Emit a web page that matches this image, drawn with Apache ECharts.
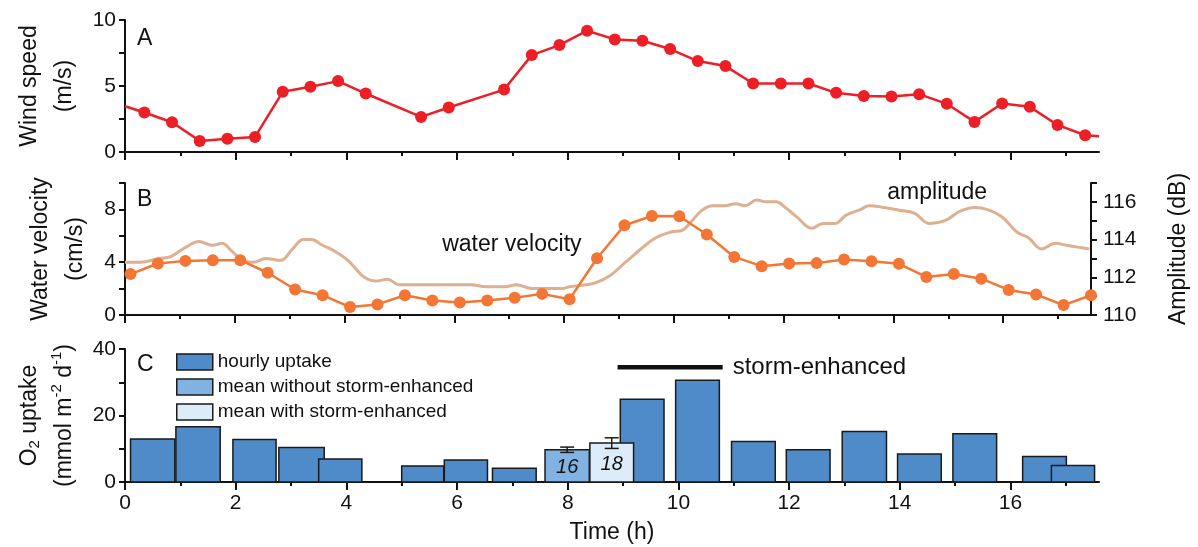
<!DOCTYPE html>
<html><head><meta charset="utf-8">
<script src="https://cdn.jsdelivr.net/npm/echarts@6/dist/echarts.min.js"></script>
<style>html,body{margin:0;padding:0;background:#fff}#c{width:1198px;height:547px}</style>
</head><body><div id="c"></div>
<script>
// ---------- DATA ----------
const hourTicksMajor = [0, 2, 4, 6, 8, 10, 12, 14, 16];
const hourTicksAll = [0, 1, 2, 3, 4, 5, 6, 7, 8, 9, 10, 11, 12, 13, 14, 15, 16, 17];

// Panel A: wind speed (m/s)
const windTime  = [0, 0.35, 0.85, 1.35, 1.85, 2.35, 2.85, 3.35, 3.85, 4.35, 5.35, 5.85, 6.85, 7.35, 7.85, 8.35, 8.85, 9.35, 9.85, 10.35, 10.85, 11.35, 11.85, 12.35, 12.85, 13.35, 13.85, 14.35, 14.85, 15.35, 15.85, 16.35, 16.85, 17.35, 17.6];
const windSpeed = [3.47, 2.99, 2.25, 0.84, 1.01, 1.14, 4.56, 4.94, 5.37, 4.43, 2.66, 3.37, 4.73, 7.34, 8.10, 9.19, 8.53, 8.43, 7.80, 6.89, 6.51, 5.19, 5.19, 5.19, 4.48, 4.25, 4.20, 4.38, 3.65, 2.28, 3.67, 3.42, 2.05, 1.27, 1.19];

// Panel B: water velocity (cm/s)
const waterTime = [0.1, 0.6, 1.1, 1.6, 2.1, 2.6, 3.1, 3.6, 4.1, 4.6, 5.1, 5.6, 6.1, 6.6, 7.1, 7.6, 8.1, 8.6, 9.1, 9.6, 10.1, 10.6, 11.1, 11.6, 12.1, 12.6, 13.1, 13.6, 14.1, 14.6, 15.1, 15.6, 16.1, 16.6, 17.1, 17.6];
const waterVel  = [3.1, 3.9, 4.1, 4.15, 4.15, 3.2, 1.93, 1.5, 0.6, 0.8, 1.5, 1.1, 0.95, 1.1, 1.3, 1.6, 1.2, 4.3, 6.8, 7.5, 7.48, 6.1, 4.4, 3.7, 3.9, 3.93, 4.2, 4.08, 3.88, 2.88, 3.1, 2.75, 1.9, 1.55, 0.75, 1.5];

// Panel B: acoustic amplitude (dB)
const ampTime = [0.00, 0.28, 0.62, 0.83, 1.11, 1.35, 1.59, 1.77, 1.94, 2.15, 2.35, 2.56, 2.84, 3.05, 3.25, 3.39, 3.60, 3.81, 4.02, 4.19, 4.36, 4.57, 4.78, 4.99, 5.33, 5.75, 6.30, 6.58, 6.93, 7.13, 7.41, 7.76, 7.96, 8.10, 8.38, 8.57, 8.84, 9.12, 9.40, 9.67, 9.95, 10.16, 10.30, 10.51, 10.71, 10.92, 11.13, 11.30, 11.51, 11.68, 11.86, 12.03, 12.24, 12.51, 12.72, 12.93, 13.14, 13.41, 13.55, 13.83, 14.11, 14.38, 14.66, 14.94, 15.21, 15.49, 15.70, 15.98, 16.25, 16.46, 16.70, 16.95, 17.15, 17.36, 17.57];
const ampDb   = [112.8, 112.8, 113.0, 113.1, 113.6, 113.9, 113.7, 113.8, 113.4, 112.9, 112.8, 113.0, 112.9, 113.5, 114.0, 114.0, 113.7, 113.4, 113.0, 112.5, 112.0, 111.8, 111.9, 111.6, 111.6, 111.6, 111.6, 111.5, 111.5, 111.6, 111.4, 111.4, 111.4, 111.5, 111.6, 111.7, 112.1, 112.8, 113.5, 114.1, 114.4, 114.5, 114.9, 115.55, 115.8, 115.8, 115.9, 115.8, 116.1, 116.0, 116.0, 115.7, 115.2, 114.6, 114.85, 114.85, 115.3, 115.6, 115.8, 115.7, 115.55, 115.4, 114.85, 115.0, 115.5, 115.7, 115.6, 115.2, 114.4, 114.1, 113.5, 113.8, 113.7, 113.6, 113.5];

// Panel C: hourly O2 uptake bars (start h, end h, value)
const hourlyStart = [0.10, 0.92, 1.95, 2.78, 3.50, 5.00, 5.77, 6.64, 8.95, 9.95, 10.96, 11.95, 12.96, 13.96, 14.96, 16.22, 16.74];
const hourlyEnd   = [0.90, 1.72, 2.73, 3.60, 4.28, 5.76, 6.55, 7.43, 9.74, 10.74, 11.75, 12.74, 13.76, 14.75, 15.75, 17.01, 17.52];
const hourlyValue = [12.9, 16.6, 12.8, 10.4, 6.9, 4.8, 6.6, 4.1, 24.9, 30.6, 12.2, 9.7, 15.2, 8.4, 14.5, 7.7, 5.0];

// Means (start, end, value, error, label)
const meanNames = ['mean without storm-enhanced', 'mean with storm-enhanced'];
const meanStart = [7.59, 8.40];
const meanEnd   = [8.39, 9.19];
const meanValue = [9.7, 11.7];
const meanError = [0.8, 1.6];
const meanLabel = ['16', '18'];

// Storm-enhanced period
const stormTime = [8.9, 10.8];
const stormLevel = 34.5;

// ---------- STYLE ----------
const FONT = '"Liberation Sans", Arial, Helvetica, sans-serif';
const INK = '#111';
const RED = '#ec1f26';
const ORANGE = '#f37634';
const TAN = '#dcb091';
const BLUE = '#4f8bc9';
const BLUE_MID = '#80b3e1';
const BLUE_LIGHT = '#dcecf8';
const XMAX = 17.6;

const chart = echarts.init(document.getElementById('c'), null, {renderer: 'canvas'});

const grids = [
  {left: 125, right: 99, top: 20, height: 132},
  {left: 125, right: 99, top: 183, height: 132},
  {left: 125, right: 99, top: 349, height: 133}
];

function xAxesFor(gi, withLabels) {
  return [
    {
      type: 'value', gridIndex: gi, min: 0, max: XMAX, interval: 1, position: 'bottom',
      axisLine: {show: true, onZero: false, lineStyle: {color: INK, width: 2}},
      axisTick: {show: true, length: 4, customValues: hourTicksAll, lineStyle: {color: INK, width: 2}},
      axisLabel: {show: withLabels, customValues: hourTicksMajor, formatter: v => String(v),
        fontSize: 21, color: INK, fontFamily: FONT, margin: 11},
      splitLine: {show: false},
      name: withLabels ? 'Time (h)' : '', nameLocation: 'middle', nameGap: 39,
      nameTextStyle: {fontSize: 23, color: INK, fontFamily: FONT}
    },
    {
      type: 'value', gridIndex: gi, min: 0, max: XMAX, interval: 2, position: 'bottom',
      axisLine: {show: false},
      axisTick: {show: true, length: 8, customValues: hourTicksMajor, lineStyle: {color: INK, width: 2}},
      axisLabel: {show: false}, splitLine: {show: false}
    }
  ];
}

const yCommon = {
  type: 'value',
  axisLine: {show: true, onZero: false, lineStyle: {color: INK, width: 2}},
  axisTick: {show: true, length: 6, lineStyle: {color: INK, width: 2}},
  splitLine: {show: false},
  nameLocation: 'middle'
};

function barRenderer(fill) {
  return function (params, api) {
    const t0 = api.value(0), t1 = api.value(1), v = api.value(2);
    const p0 = api.coord([t0, v]);
    const p1 = api.coord([t1, 0]);
    return {
      type: 'rect',
      shape: {x: p0[0], y: p0[1], width: p1[0] - p0[0], height: p1[1] - p0[1]},
      style: {fill: fill, stroke: '#1a1a1a', lineWidth: 1.5}
    };
  };
}

function meanRenderer(fill, idx) {
  return function (params, api) {
    const t0 = api.value(0), t1 = api.value(1), v = api.value(2);
    const p0 = api.coord([t0, v]);
    const p1 = api.coord([t1, 0]);
    const pl = api.coord([(t0 + t1) / 2, v * 0.46]);
    return {
      type: 'group',
      children: [
        {type: 'rect', shape: {x: p0[0], y: p0[1], width: p1[0] - p0[0], height: p1[1] - p0[1]},
          style: {fill: fill, stroke: '#1a1a1a', lineWidth: 1.5}},
        {type: 'text', x: pl[0], y: pl[1],
          style: {text: meanLabel[idx], fill: INK, fontSize: 20, fontStyle: 'italic', fontFamily: FONT,
            align: 'center', verticalAlign: 'middle', textAlign: 'center', textVerticalAlign: 'middle'}}
      ]
    };
  };
}

function errRenderer(params, api) {
  const t = api.value(0), lo = api.value(1), hi = api.value(2);
  const a = api.coord([t, lo]), b = api.coord([t, hi]);
  const w = 7;
  const st = {stroke: '#1a1a1a', lineWidth: 1.5};
  return {
    type: 'group',
    children: [
      {type: 'line', shape: {x1: a[0], y1: a[1], x2: b[0], y2: b[1]}, style: st},
      {type: 'line', shape: {x1: a[0] - w, y1: a[1], x2: a[0] + w, y2: a[1]}, style: st},
      {type: 'line', shape: {x1: b[0] - w, y1: b[1], x2: b[0] + w, y2: b[1]}, style: st}
    ]
  };
}

const windData = windTime.map((t, i) => {
  const edge = (i === 0 || i === windTime.length - 1);
  return edge ? {value: [t, windSpeed[i]], symbol: 'none'} : [t, windSpeed[i]];
});

const option = {
  animation: false,
  backgroundColor: '#fff',
  textStyle: {fontFamily: FONT},
  grid: grids,
  xAxis: [].concat(xAxesFor(0, false), xAxesFor(1, false), xAxesFor(2, true)),
  yAxis: [
    Object.assign({}, yCommon, {
      gridIndex: 0, min: 0, max: 10, interval: 2.5,
      axisLabel: {formatter: v => (v % 5 === 0 ? String(v) : ''), fontSize: 21, color: INK, fontFamily: FONT, margin: 9},
      name: 'Wind speed\n(m/s)', nameGap: 27,
      nameTextStyle: {fontSize: 23, lineHeight: 35, color: INK, fontFamily: FONT}
    }),
    Object.assign({}, yCommon, {
      gridIndex: 1, min: 0, max: 10, interval: 2,
      axisLabel: {formatter: v => (v % 4 === 0 ? String(v) : ''), fontSize: 21, color: INK, fontFamily: FONT, margin: 9},
      name: 'Water velocity\n(cm/s)', nameGap: 27,
      nameTextStyle: {fontSize: 23, lineHeight: 35, color: INK, fontFamily: FONT}
    }),
    Object.assign({}, yCommon, {
      gridIndex: 1, min: 110, max: 117, interval: 1, position: 'right',
      axisLabel: {formatter: v => (v % 2 === 0 ? String(v) : ''), fontSize: 21, color: INK, fontFamily: FONT, margin: 12},
      name: 'Amplitude (dB)', nameGap: 76, nameRotate: 90,
      nameTextStyle: {fontSize: 23, color: INK, fontFamily: FONT}
    }),
    Object.assign({}, yCommon, {
      gridIndex: 2, min: 0, max: 40, interval: 10,
      axisLabel: {formatter: v => (v % 20 === 0 ? String(v) : ''), fontSize: 21, color: INK, fontFamily: FONT, margin: 9},
      name: '{t|O}{sub|2}{t| uptake}\n{t|(mmol m}{sup|-2}{t| d}{sup|-1}{t|)}', nameGap: 42,
      nameTextStyle: {
        fontSize: 23, lineHeight: 35, color: INK, fontFamily: FONT,
        rich: {
          t: {fontSize: 23, lineHeight: 35, color: INK, fontFamily: FONT},
          sub: {fontSize: 15, lineHeight: 15, verticalAlign: 'bottom', padding: [0, 0, 4, 0], color: INK, fontFamily: FONT},
          sup: {fontSize: 15, lineHeight: 15, verticalAlign: 'top', padding: [3, 0, 0, 0], color: INK, fontFamily: FONT}
        }
      }
    })
  ],
  legend: {
    orient: 'vertical', left: 176, top: 352, padding: 0, itemWidth: 36, itemHeight: 16, itemGap: 5,
    selectedMode: false, icon: 'rect',
    itemStyle: {borderColor: '#1a1a1a', borderWidth: 1.5},
    textStyle: {fontSize: 19, lineHeight: 20, color: INK, fontFamily: FONT},
    data: ['hourly uptake', meanNames[0], meanNames[1]]
  },
  graphic: [
    {type: 'text', x: 137, y: 39, style: {text: 'A', fontSize: 23, fontFamily: FONT, fill: INK, verticalAlign: 'middle', textVerticalAlign: 'middle'}},
    {type: 'text', x: 137, y: 200, style: {text: 'B', fontSize: 23, fontFamily: FONT, fill: INK, verticalAlign: 'middle', textVerticalAlign: 'middle'}},
    {type: 'text', x: 137, y: 365, style: {text: 'C', fontSize: 23, fontFamily: FONT, fill: INK, verticalAlign: 'middle', textVerticalAlign: 'middle'}}
  ],
  series: [
    {
      name: 'wind', type: 'line', xAxisIndex: 0, yAxisIndex: 0,
      data: windData, symbol: 'circle', symbolSize: 12,
      lineStyle: {color: RED, width: 2.5}, itemStyle: {color: RED}
    },
    {
      name: 'amplitude', type: 'line', xAxisIndex: 2, yAxisIndex: 2,
      data: ampTime.map((t, i) => [t, ampDb[i]]), smooth: 0.4, showSymbol: false, symbol: 'none',
      lineStyle: {color: TAN, width: 3}, itemStyle: {color: TAN},
      markPoint: {
        symbol: 'circle', symbolSize: 1, itemStyle: {color: 'rgba(0,0,0,0)'},
        data: [{coord: [13.88, 116.5], label: {show: true, position: 'right', distance: 0, formatter: 'amplitude',
          fontSize: 23, color: INK, fontFamily: FONT}}]
      }
    },
    {
      name: 'water velocity', type: 'line', xAxisIndex: 2, yAxisIndex: 1,
      data: waterTime.map((t, i) => [t, waterVel[i]]), symbol: 'circle', symbolSize: 12,
      lineStyle: {color: ORANGE, width: 2.5}, itemStyle: {color: ORANGE},
      markPoint: {
        symbol: 'circle', symbolSize: 1, itemStyle: {color: 'rgba(0,0,0,0)'},
        data: [{coord: [5.77, 5.3], label: {show: true, position: 'right', distance: 0, formatter: 'water velocity',
          fontSize: 23, color: INK, fontFamily: FONT}}]
      }
    },
    {
      name: 'hourly uptake', type: 'custom', xAxisIndex: 4, yAxisIndex: 3,
      renderItem: barRenderer(BLUE),
      itemStyle: {color: BLUE, borderColor: '#1a1a1a', borderWidth: 1.5},
      encode: {x: [0, 1], y: 2},
      data: hourlyStart.map((s, i) => [s, hourlyEnd[i], hourlyValue[i]])
    },
    {
      name: meanNames[0], type: 'custom', xAxisIndex: 4, yAxisIndex: 3,
      renderItem: meanRenderer(BLUE_MID, 0),
      itemStyle: {color: BLUE_MID, borderColor: '#1a1a1a', borderWidth: 1.5},
      encode: {x: [0, 1], y: 2},
      data: [[meanStart[0], meanEnd[0], meanValue[0]]]
    },
    {
      name: meanNames[1], type: 'custom', xAxisIndex: 4, yAxisIndex: 3,
      renderItem: meanRenderer(BLUE_LIGHT, 1),
      itemStyle: {color: BLUE_LIGHT, borderColor: '#1a1a1a', borderWidth: 1.5},
      encode: {x: [0, 1], y: 2},
      data: [[meanStart[1], meanEnd[1], meanValue[1]]]
    },
    {
      name: 'error', type: 'custom', xAxisIndex: 4, yAxisIndex: 3,
      renderItem: errRenderer, encode: {x: 0, y: [1, 2]},
      data: meanValue.map((v, i) => [(meanStart[i] + meanEnd[i]) / 2, v - meanError[i], v + meanError[i]])
    },
    {
      name: 'storm', type: 'line', xAxisIndex: 4, yAxisIndex: 3,
      data: stormTime.map(t => [t, stormLevel]), symbol: 'none',
      lineStyle: {color: INK, width: 4.5},
      endLabel: {show: true, formatter: 'storm-enhanced', distance: 10, fontSize: 24, color: INK, fontFamily: FONT}
    }
  ]
};

chart.setOption(option);
</script>
</body></html>
